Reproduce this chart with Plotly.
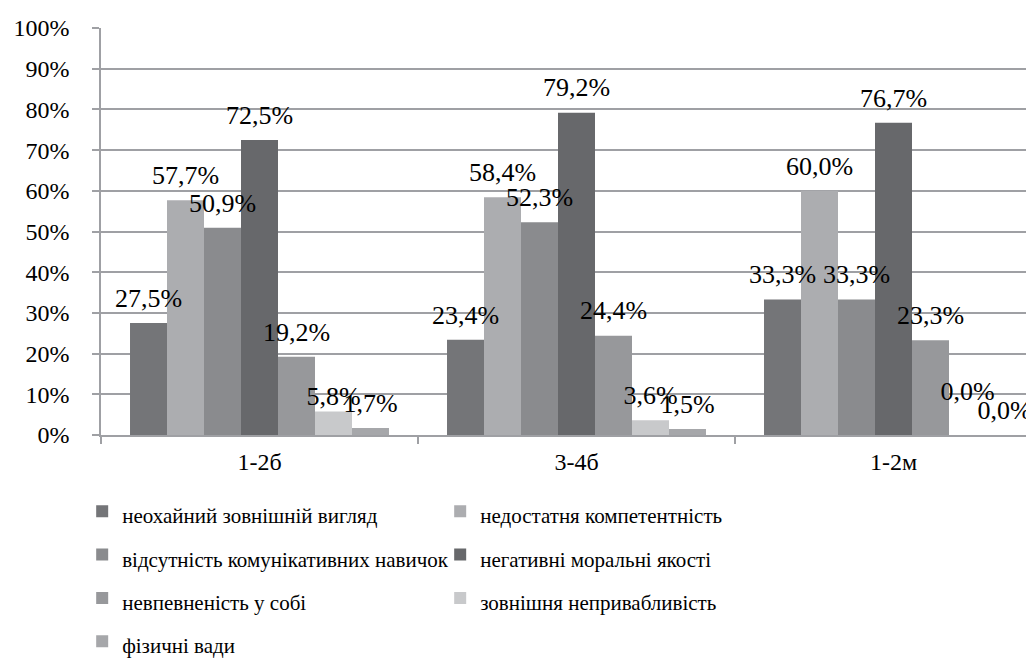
import plotly.graph_objects as go

categories = ["1-2б", "3-4б", "1-2м"]
series_names = [
    "неохайний зовнішній вигляд",
    "недостатня компетентність",
    "відсутність комунікативних навичок",
    "негативні моральні якості",
    "невпевненість у собі",
    "зовнішня непривабливість",
    "фізичні вади",
]
s1 = [27.5, 23.4, 33.3]
s2 = [57.7, 58.4, 60.0]
s3 = [50.9, 52.3, 33.3]
s4 = [72.5, 79.2, 76.7]
s5 = [19.2, 24.4, 23.3]
s6 = [5.8, 3.6, 0.0]
s7 = [1.7, 1.5, 0.0]
series_values = [s1, s2, s3, s4, s5, s6, s7]
colors = ["#747578", "#acadb0", "#8a8b8e", "#67686b", "#97989b", "#c8c9cb", "#a6a7aa"]
y_ticks = [0, 10, 20, 30, 40, 50, 60, 70, 80, 90, 100]

# label padding (invisible marker size) — style only; a few labels were moved in the original
LABEL_PAD = 14
label_pad_override = {(5, 0): 0, (5, 2): 44}

FONT = "Liberation Serif"
GAP = 0.183

fig = go.Figure()
for name, vals, col in zip(series_names, series_values, colors):
    fig.add_trace(go.Bar(
        x=categories, y=vals,
        name=f"<span style='font-size:21px'>{name}</span>",
        marker=dict(color=col, line=dict(width=0)),
    ))
# value labels, grouped like the bars
for si, (name, vals) in enumerate(zip(series_names, series_values)):
    pads = [label_pad_override.get((si, ci), LABEL_PAD) for ci in range(len(vals))]
    fig.add_trace(go.Scatter(
        x=categories, y=vals, mode="markers+text",
        marker=dict(size=pads, opacity=0),
        text=[f"{v:.1f}%".replace(".", ",") for v in vals],
        textposition="top center",
        textfont=dict(family=FONT, size=26, color="#000000"),
        showlegend=False, hoverinfo="skip", cliponaxis=False,
    ))

fig.update_layout(
    width=1034, height=666,
    margin=dict(l=93, r=0, t=20, b=239),
    paper_bgcolor="white", plot_bgcolor="white",
    barmode="group", bargap=GAP, bargroupgap=0,
    scattermode="group", scattergap=GAP,
    font=dict(family=FONT, size=24, color="#000000"),
    showlegend=True,
    legend=dict(
        orientation="h", x=-0.02, xanchor="left", y=-0.122, yanchor="top",
        font=dict(family=FONT, size=31, color="#000000"),
        entrywidth=313, entrywidthmode="pixels",
        traceorder="normal", itemwidth=30,
    ),
)
fig.update_yaxes(
    range=[0, 100], tickvals=y_ticks, ticktext=[f"{t}%" for t in y_ticks],
    showgrid=True, gridcolor="#9fa0a4", gridwidth=1.6,
    showline=True, linecolor="#9fa0a4", linewidth=1.6,
    ticks="outside", ticklen=7, tickcolor="#9fa0a4", tickwidth=1.6,
    ticklabelstandoff=18, zeroline=False,
    tickfont=dict(family=FONT, size=24, color="#000000"),
)
fig.update_xaxes(
    range=[-0.5, -0.5 + 941 / 317],
    showline=True, linecolor="#9fa0a4", linewidth=1.6,
    ticks="outside", ticklen=7, tickcolor="#9fa0a4", tickwidth=1.6,
    tickson="boundaries", showgrid=False,
    ticklabelstandoff=4,
    tickfont=dict(family=FONT, size=24, color="#000000"),
)

fig.write_html("out.html")
